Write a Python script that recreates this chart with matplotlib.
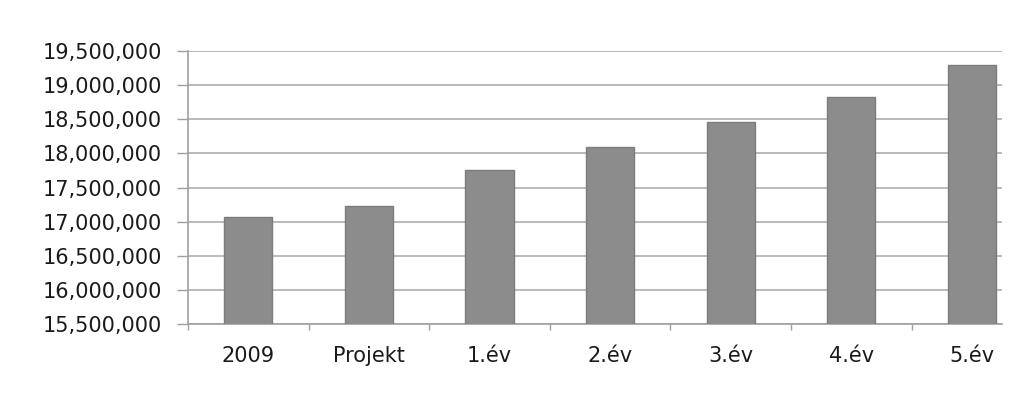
import matplotlib
matplotlib.use("Agg")
import matplotlib.pyplot as plt
from matplotlib.ticker import FuncFormatter, FixedLocator
import numpy as np

categories = ["2009", "Projekt", "1.év", "2.év", "3.év", "4.év", "5.év"]
values = [17070000, 17230000, 17750000, 18100000, 18460000, 18820000, 19290000]
y_ticks = [15500000, 16000000, 16500000, 17000000, 17500000, 18000000, 18500000, 19000000, 19500000]

plt.rcParams['font.family'] = ['DejaVu Sans']

fig = plt.figure(figsize=(10.23, 4.07), dpi=100)
ax = fig.add_axes([188/1023, 1 - 324/407, (1002-188)/1023, (324-51)/407])

x = np.arange(len(categories))
ax.bar(x, values, width=0.40, color="#8c8c8c", edgecolor="#7c7c7c", linewidth=1.0, zorder=3)

ax.set_xlim(-0.5, len(categories) - 0.75)
ax.set_ylim(y_ticks[0], y_ticks[-1])
ax.set_yticks(y_ticks)
ax.yaxis.set_major_formatter(FuncFormatter(lambda v, p: f"{int(v):,}"))
ax.grid(axis="y", color="#b4b4b4", linewidth=1.3, zorder=0)

ax.set_xticks(x)
ax.set_xticklabels(categories)
ax.xaxis.set_minor_locator(FixedLocator(np.arange(-0.5, len(categories) - 1, 1.0)))
ax.tick_params(axis="x", which="major", length=0, pad=16, labelsize=15, labelcolor="#1a1a1a")
ax.tick_params(axis="x", which="minor", length=4.5, width=1.0, color="#a0a0a0")
ax.tick_params(axis="y", length=8, width=1.0, color="#a0a0a0", pad=11, labelsize=15, labelcolor="#1a1a1a")

for s in ["top", "right"]:
    ax.spines[s].set_visible(False)
for s in ["left", "bottom"]:
    ax.spines[s].set_color("#a0a0a0")
    ax.spines[s].set_linewidth(1.2)

fig.savefig("out.png", dpi=100)
